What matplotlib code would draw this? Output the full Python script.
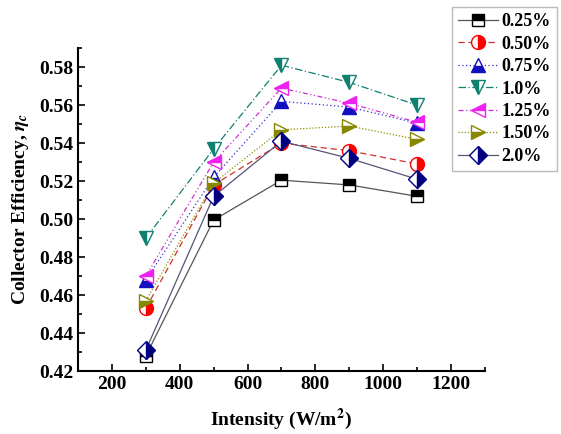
import matplotlib.pyplot as plt
from matplotlib.ticker import MultipleLocator

plt.rcParams['font.family'] = ['Liberation Serif', 'DejaVu Serif']
plt.rcParams['font.weight'] = 'bold'
plt.rcParams['mathtext.fontset'] = 'stix'

intensity = [300, 500, 700, 900, 1100]
labels = ['0.25%', '0.50%', '0.75%', '1.0%', '1.25%', '1.50%', '2.0%']
eff_025 = [0.428, 0.4995, 0.5205, 0.518, 0.512]
eff_050 = [0.453, 0.518, 0.540, 0.536, 0.529]
eff_075 = [0.468, 0.522, 0.562, 0.559, 0.5505]
eff_100 = [0.490, 0.537, 0.581, 0.572, 0.560]
eff_125 = [0.470, 0.530, 0.569, 0.561, 0.551]
eff_150 = [0.457, 0.519, 0.547, 0.549, 0.542]
eff_200 = [0.431, 0.512, 0.541, 0.532, 0.521]

series = [eff_025, eff_050, eff_075, eff_100, eff_125, eff_150, eff_200]
colors = ['black', 'red', '#1010c0', '#108070', '#ee22ee', '#888800', '#000080']
line_colors = ['#555555', '#d03030', '#3030d0', '#108070', '#d030d0', '#909000', '#555577']
markers = ['s', 'o', '^', 'v', '<', '>', 'D']
fills = ['top', 'right', 'bottom', 'left', 'top', 'bottom', 'right']
styles = ['-', (0, (5, 3)), (0, (1, 2)), (0, (6, 2, 1, 2)), (0, (4, 2, 1, 2, 1, 2)), (0, (1, 1.5)), '-']
msizes = [9, 10, 10, 10, 10, 10, 9]

fig = plt.figure(figsize=(5.61, 4.34), dpi=100)
ax = fig.add_axes([0.139, 0.145, 0.7255, 0.744])

for y, lab, c, lc, m, f, ls, ms in zip(series, labels, colors, line_colors, markers, fills, styles, msizes):
    ax.plot(intensity, y, linestyle=ls, color=lc, linewidth=0.9,
            marker=m, markersize=ms, fillstyle=f, markerfacecolor=c,
            markerfacecoloralt='white', markeredgecolor=c, markeredgewidth=1.0,
            label=lab)

ax.set_xlim(100, 1300)
ax.set_ylim(0.42, 0.59)
ax.xaxis.set_minor_locator(MultipleLocator(100))
ax.yaxis.set_minor_locator(MultipleLocator(0.01))
ax.set_xticks([200, 400, 600, 800, 1000, 1200])
ax.set_yticks([0.42, 0.44, 0.46, 0.48, 0.50, 0.52, 0.54, 0.56, 0.58])
ax.yaxis.set_major_formatter(plt.FormatStrFormatter('%.2f'))
ax.tick_params(which='both', direction='in', labelsize=14, width=1.2)
ax.tick_params(which='major', length=5)
ax.tick_params(which='minor', length=3)
for lbl in ax.get_xticklabels() + ax.get_yticklabels():
    lbl.set_fontweight('bold')
ax.spines['top'].set_visible(False)
ax.spines['right'].set_visible(False)
ax.spines['left'].set_linewidth(1.5)
ax.spines['bottom'].set_linewidth(1.5)

ax.set_xlabel('Intensity (W/m$^\\mathbf{2}$)', fontsize=14, fontweight='bold', labelpad=10)
ax.set_ylabel('Collector Efficiency, $\\eta_c$', fontsize=14, fontweight='bold', labelpad=6)

fig.legend(loc='upper left', bbox_to_anchor=(452 / 561, 1 - 7 / 434),
           prop={'weight': 'bold', 'size': 13}, fancybox=False, edgecolor='#aaaaaa',
           handlelength=2.2, labelspacing=0.3, borderpad=0.35, handletextpad=0.2,
           borderaxespad=0)

fig.savefig('out.png', dpi=100)
